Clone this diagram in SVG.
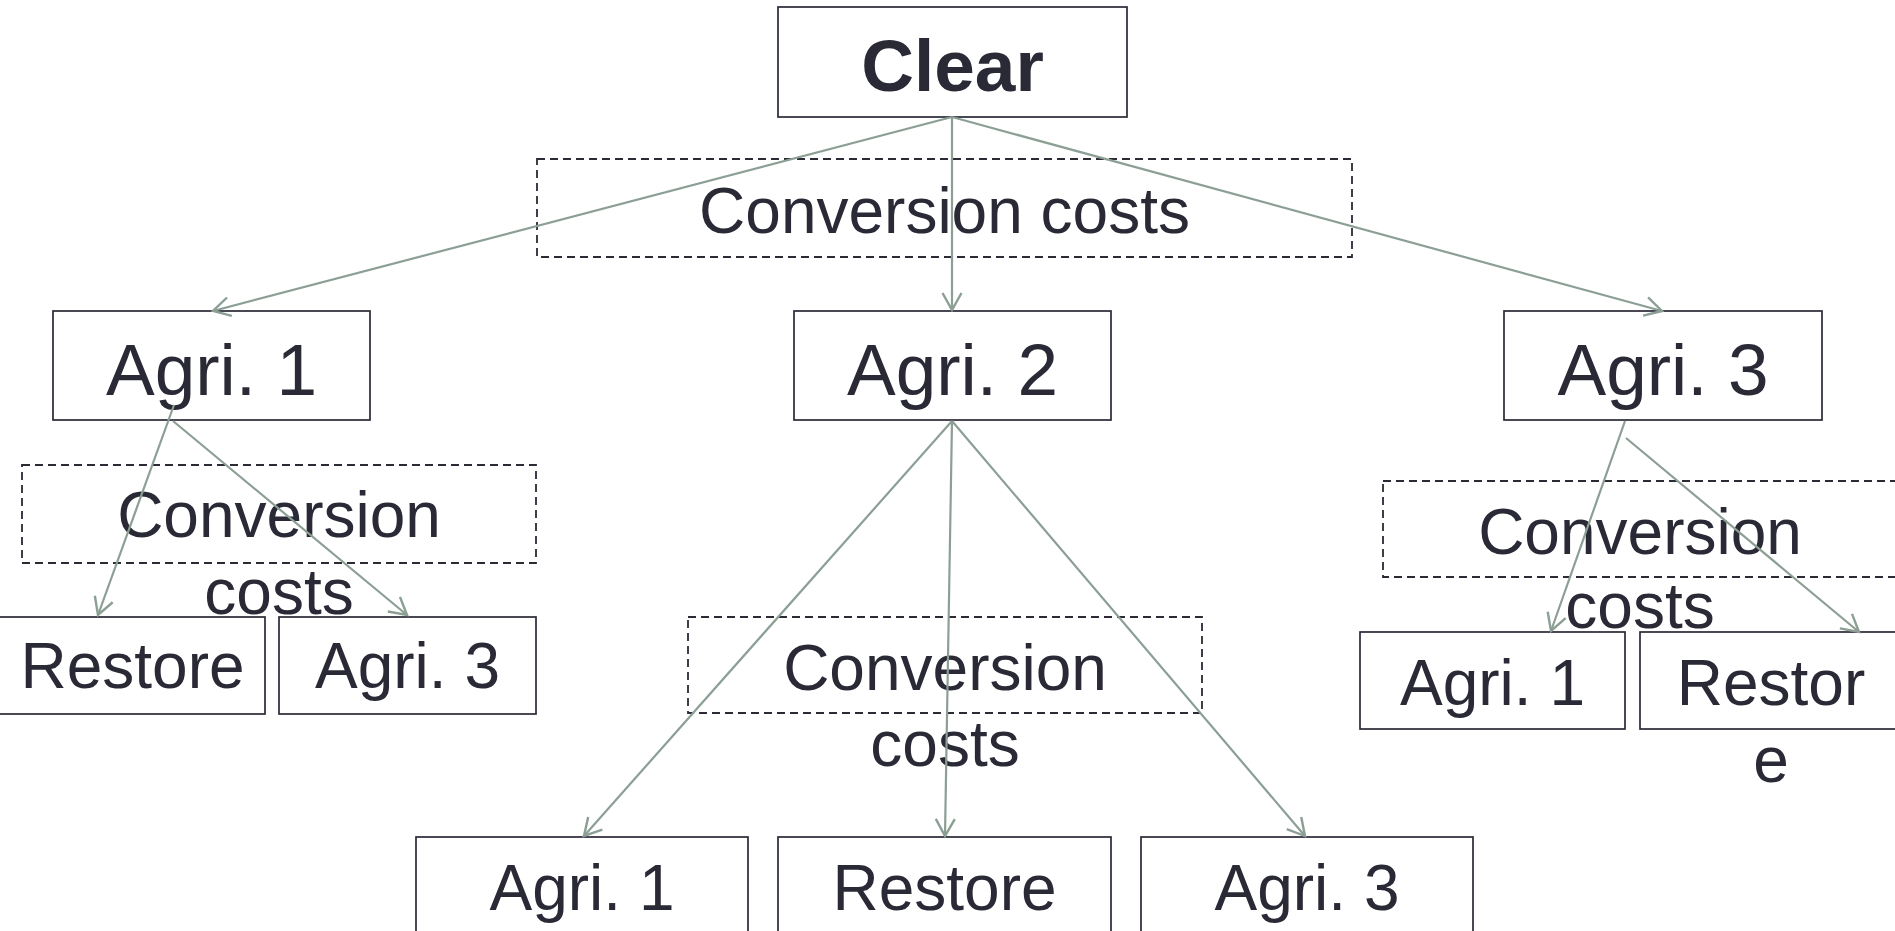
<svg xmlns="http://www.w3.org/2000/svg" width="1895" height="931" viewBox="0 0 1895 931">
<style>
  .box { fill: none; stroke: #2b2a35; stroke-width: 1.7; }
  .dash { fill: none; stroke: #2b2a35; stroke-width: 1.8; stroke-dasharray: 8 5; }
  .t { font-family: "Liberation Sans", Arial, sans-serif; fill: #2a2a36; text-anchor: middle; }
  .big { font-size: 73px; }
  .mid { font-size: 64px; }
  .bold { font-weight: bold; }
  .con { stroke: #8c9f94; stroke-width: 2.2; fill: none; marker-end: url(#arr); }
</style>
<defs>
  <marker id="arr" markerUnits="userSpaceOnUse" markerWidth="30" markerHeight="30" refX="0" refY="0" viewBox="-20 -15 30 30" orient="auto" overflow="visible">
    <path d="M -17 -9.5 L 0 0 L -17 9.5" fill="none" stroke="#8c9f94" stroke-width="2.4"/>
  </marker>
</defs>
<rect width="1895" height="931" fill="#ffffff"/>

<g id="clear">
  <rect class="box" x="778" y="7" width="349" height="110"/>
  <text class="t big bold" x="952.5" y="91">Clear</text>
</g>
<g id="cc-top">
  <rect class="dash" x="537" y="159" width="815" height="98"/>
  <text class="t mid" x="944.5" y="233">Conversion costs</text>
</g>
<g id="agri1">
  <rect class="box" x="53" y="311" width="317" height="109"/>
  <text class="t big" x="211.5" y="395">Agri. 1</text>
</g>
<g id="agri2">
  <rect class="box" x="794" y="311" width="317" height="109"/>
  <text class="t big" x="952.5" y="395">Agri. 2</text>
</g>
<g id="agri3">
  <rect class="box" x="1504" y="311" width="318" height="109"/>
  <text class="t big" x="1663" y="395">Agri. 3</text>
</g>
<g id="cc-left">
  <rect class="dash" x="22" y="465" width="514" height="98"/>
  <text class="t mid" x="279" y="537">Conversion</text>
  <text class="t mid" x="279" y="614">costs</text>
</g>
<g id="a1-restore">
  <rect class="box" x="-1" y="617" width="266" height="97"/>
  <text class="t mid" x="132.5" y="688">Restore</text>
</g>
<g id="a1-agri3">
  <rect class="box" x="279" y="617" width="257" height="97"/>
  <text class="t mid" x="407.5" y="688">Agri. 3</text>
</g>
<g id="cc-mid">
  <rect class="dash" x="688" y="617" width="514" height="96"/>
  <text class="t mid" x="945" y="690">Conversion</text>
  <text class="t mid" x="945" y="766">costs</text>
</g>
<g id="a2-agri1">
  <rect class="box" x="416" y="837" width="332" height="98"/>
  <text class="t mid" x="582" y="910">Agri. 1</text>
</g>
<g id="a2-restore">
  <rect class="box" x="778" y="837" width="333" height="98"/>
  <text class="t mid" x="944.5" y="910">Restore</text>
</g>
<g id="a2-agri3">
  <rect class="box" x="1141" y="837" width="332" height="98"/>
  <text class="t mid" x="1307" y="910">Agri. 3</text>
</g>
<g id="cc-right">
  <rect class="dash" x="1383" y="481" width="514" height="96"/>
  <text class="t mid" x="1640" y="554">Conversion</text>
  <text class="t mid" x="1640" y="628">costs</text>
</g>
<g id="a3-agri1">
  <rect class="box" x="1360" y="632" width="265" height="97"/>
  <text class="t mid" x="1492.5" y="705">Agri. 1</text>
</g>
<g id="a3-restore">
  <rect class="box" x="1640" y="632" width="265" height="97"/>
  <text class="t mid" x="1771" y="705">Restor</text>
  <text class="t mid" x="1771" y="782">e</text>
</g>

<g id="connectors">
  <line class="con" x1="952" y1="117" x2="213" y2="311"/>
  <line class="con" x1="952" y1="117" x2="952" y2="310"/>
  <line class="con" x1="952" y1="117" x2="1662" y2="311"/>
  <line class="con" x1="174" y1="405" x2="98" y2="615"/>
  <line class="con" x1="173" y1="421" x2="407" y2="615"/>
  <line class="con" x1="952" y1="421" x2="584" y2="836"/>
  <line class="con" x1="952" y1="421" x2="945" y2="836"/>
  <line class="con" x1="952" y1="421" x2="1305" y2="836"/>
  <line class="con" x1="1625" y1="421" x2="1551" y2="631"/>
  <line class="con" x1="1626" y1="438" x2="1859" y2="632"/>
</g>
</svg>
